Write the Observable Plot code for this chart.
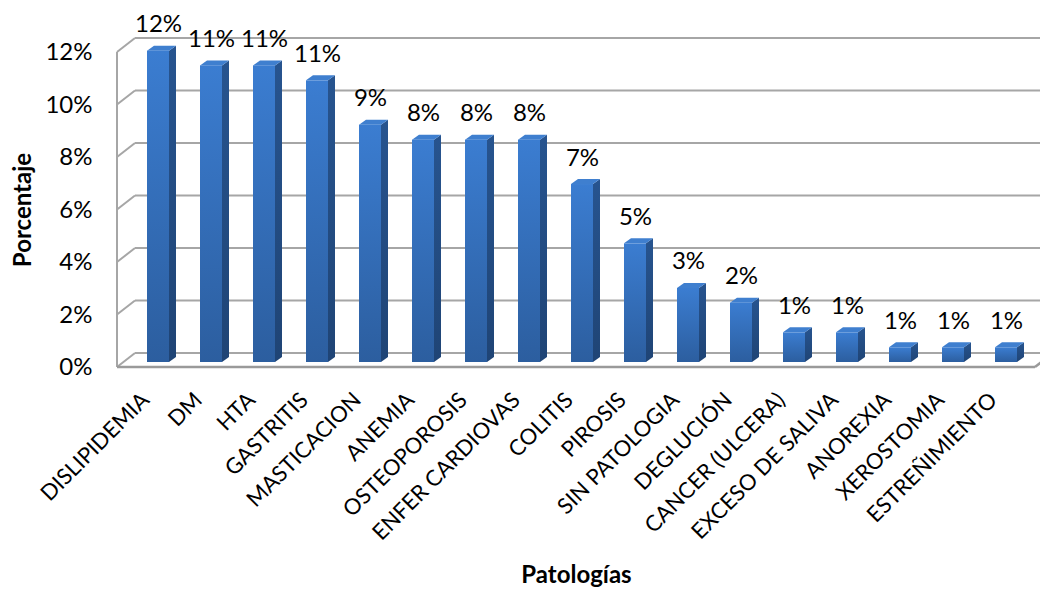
<!DOCTYPE html>
<html>
<head>
<meta charset="utf-8">
<script src="https://cdn.jsdelivr.net/npm/d3@7"></script>
<script src="https://cdn.jsdelivr.net/npm/@observablehq/plot@0.6"></script>
<style>
  html, body { margin: 0; padding: 0; background: #ffffff; }
  svg { display: block; }
</style>
</head>
<body>
<div id="chart"></div>
<script>
// ---- data ----
const categories = ["DISLIPIDEMIA", "DM", "HTA", "GASTRITIS", "MASTICACION", "ANEMIA", "OSTEOPOROSIS",
  "ENFER CARDIOVAS", "COLITIS", "PIROSIS", "SIN PATOLOGIA", "DEGLUCIÓN", "CANCER (ULCERA)",
  "EXCESO DE SALIVA", "ANOREXIA", "XEROSTOMIA", "ESTREÑIMIENTO"];
const values = [11.86, 11.30, 11.30, 10.73, 9.04, 8.47, 8.47, 8.47, 6.78, 4.52, 2.82, 2.26, 1.13, 1.13, 0.56, 0.56, 0.56];
const valueLabels = ["12%", "11%", "11%", "11%", "9%", "8%", "8%", "8%", "7%", "5%", "3%", "2%", "1%", "1%", "1%", "1%", "1%"];
const yTicks = [0, 2, 4, 6, 8, 10, 12];
const yTickLabels = ["0%", "2%", "4%", "6%", "8%", "10%", "12%"];
const yTitle = "Porcentaje";
const xTitle = "Patologías";

const data = categories.map((c, i) => ({cat: c, value: values[i], label: valueLabels[i]}));

// ---- 3D styling ----
const WALL_DX = 18, WALL_DY = -14;   // depth of the back wall
const BAR_DX = 6, BAR_DY = -5;       // bar front face offset from front plane
const SIDE_DX = 7, SIDE_DY = -5;     // bar depth
const GRID = "#a6a6a6";
const NS = "http://www.w3.org/2000/svg";

function el(name, attrs) {
  const e = document.createElementNS(NS, name);
  for (const k in attrs) e.setAttribute(k, attrs[k]);
  return e;
}

// back wall, floor and left side frame
function wallMark(index, scales, values, dims) {
  const g = el("g", {fill: "none", stroke: GRID, "stroke-width": 2});
  const y = scales.y;
  const x0 = dims.marginLeft, x1 = dims.width - dims.marginRight;
  const defs = el("defs", {});
  const grad = el("linearGradient", {id: "barGrad", x1: 0, y1: 0, x2: 0, y2: 1});
  grad.appendChild(el("stop", {offset: "0%", "stop-color": "#3b7dd1"}));
  grad.appendChild(el("stop", {offset: "100%", "stop-color": "#2c5e9f"}));
  defs.appendChild(grad);
  const sgrad = el("linearGradient", {id: "sideGrad", x1: 0, y1: 0, x2: 0, y2: 1});
  sgrad.appendChild(el("stop", {offset: "0%", "stop-color": "#27548f"}));
  sgrad.appendChild(el("stop", {offset: "100%", "stop-color": "#1f4475"}));
  defs.appendChild(sgrad);
  g.appendChild(defs);
  for (const v of yTicks) {
    const yy = y(v);
    g.appendChild(el("line", {x1: x0 + WALL_DX, y1: yy + WALL_DY, x2: dims.width + 5, y2: yy + WALL_DY}));
    g.appendChild(el("line", {x1: x0, y1: yy, x2: x0 + WALL_DX, y2: yy + WALL_DY}));
  }
  g.appendChild(el("line", {x1: x0, y1: y(0), x2: x0, y2: y(yTicks[yTicks.length - 1])}));
  g.appendChild(el("line", {x1: x0, y1: y(0), x2: x1, y2: y(0), "stroke-width": 2.5, stroke: "#9a9a9a"}));
  g.appendChild(el("line", {x1: x1, y1: y(0), x2: x1 + WALL_DX, y2: y(0) + WALL_DY, "stroke-width": 2.5, stroke: "#9a9a9a"}));
  return g;
}

// side and top faces of the bars
function barDepthMark(index, scales, values, dims) {
  const g = el("g", {});
  const x = scales.x, y = scales.y;
  const bw = x.bandwidth ? x.bandwidth() : scales.scales.x.bandwidth;
  for (const d of data) {
    const xl = x(d.cat) + BAR_DX, xr = xl + bw;
    const yt = y(d.value) + BAR_DY, yb = y(0) + BAR_DY;
    g.appendChild(el("polygon", {
      points: `${xr},${yt} ${xr + SIDE_DX},${yt + SIDE_DY} ${xr + SIDE_DX},${yb + SIDE_DY} ${xr},${yb}`,
      fill: "url(#sideGrad)"
    }));
    g.appendChild(el("polygon", {
      points: `${xl},${yt} ${xl + SIDE_DX},${yt + SIDE_DY} ${xr + SIDE_DX},${yt + SIDE_DY} ${xr},${yt}`,
      fill: "#3f7fcf"
    }));
  }
  return g;
}

const chart = Plot.plot({
  width: 1040,
  height: 590,
  marginLeft: 117,
  marginRight: 5,
  marginTop: 52,
  marginBottom: 223,
  style: {fontFamily: "Lato, 'Open Sans', sans-serif", fontSize: "22px", color: "#000", background: "#fff"},
  x: {domain: categories, paddingInner: 0.59, paddingOuter: 0.3, axis: null},
  y: {domain: [0, 12], axis: null},
  marks: [
    wallMark,
    barDepthMark,
    Plot.barY(data, {x: "cat", y: "value", dx: BAR_DX, dy: BAR_DY, fill: "url(#barGrad)"}),
    Plot.text(data, {x: "cat", y: "value", text: "label", dx: BAR_DX, dy: BAR_DY - 19, lineAnchor: "bottom", fontSize: 24, fill: "#000"}),
    Plot.text(yTicks, {y: d => d, text: (d, i) => yTickLabels[i], frameAnchor: "left", textAnchor: "end", dx: -25, fontSize: 24, fill: "#000"}),
    Plot.text(data, {x: "cat", y: () => 0, text: "cat", dx: -7, dy: 29, rotate: -45, textAnchor: "end", lineAnchor: "middle", fontSize: 22, fill: "#000"}),
    Plot.text([yTitle], {frameAnchor: "left", dx: -94, rotate: -90, textAnchor: "middle", fontWeight: "bold", fontSize: 24, fill: "#000"}),
    Plot.text([xTitle], {frameAnchor: "bottom", dy: 215, textAnchor: "middle", fontWeight: "bold", fontSize: 24, fill: "#000"})
  ]
});
document.getElementById("chart").appendChild(chart);
</script>
</body>
</html>
